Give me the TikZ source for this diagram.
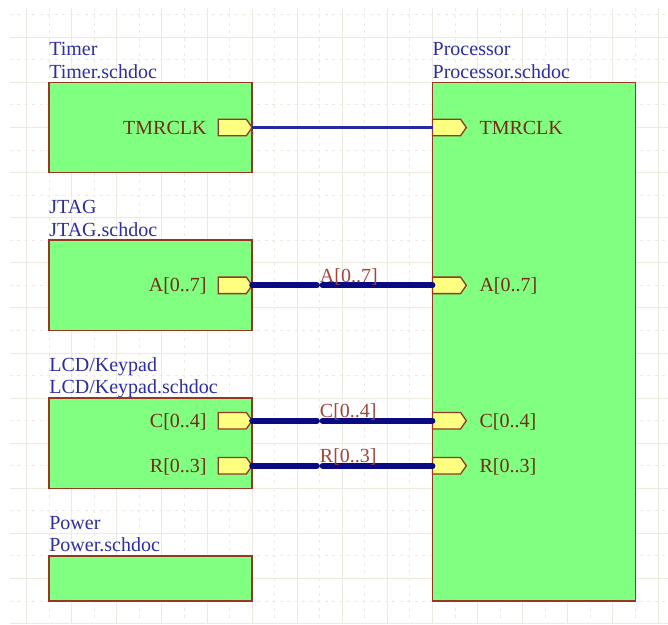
\documentclass[tikz,border=0pt]{standalone}
\usepackage{fontspec}
\setmainfont{Liberation Serif}
\usetikzlibrary{positioning,shapes.symbols}

\definecolor{sheetfill}{RGB}{128,255,128}
\definecolor{sheetline}{RGB}{150,55,35}
\definecolor{portfill}{RGB}{255,255,128}
\definecolor{sheetblue}{RGB}{45,45,165}
\definecolor{porttext}{RGB}{115,45,20}
\definecolor{netred}{RGB}{165,70,60}
\definecolor{busblue}{RGB}{10,10,130}
\definecolor{wireblue}{RGB}{40,40,165}
\definecolor{gridcol}{RGB}{236,234,225}

\newcommand{\gridu}{22.55pt}

\begin{document}
\begin{tikzpicture}[
  x=22.55pt, y=-22.55pt,
  font=\fontsize{20pt}{22.55pt}\selectfont,
  sheet/.style={
    draw=sheetline, line width=1.6pt, fill=sheetfill,
    anchor=north west, inner sep=0pt, outer sep=0pt,
  },
  sheetname/.style={
    text=sheetblue, align=left, inner sep=0pt, text depth=0pt,
  },
  port/.style={
    signal, signal to=east, signal pointer angle=110,
    draw=sheetline, line width=1.3pt, fill=portfill,
    minimum width=1.5*\gridu, minimum height=16.5pt,
    inner sep=0pt, outer sep=0pt,
  },
  porttxt/.style={text=porttext, inner sep=0pt, text height=13.2pt, text depth=0pt},
  netlbl/.style={text=netred, inner sep=0pt, anchor=base west},
  wire/.style={line width=2.4pt, color=wireblue},
  bus/.style={line width=5.8pt, color=busblue, line cap=round},
  gridmajor/.style={line width=1pt, color=gridcol},
  gridminor/.style={line width=1pt, color=gridcol, dash pattern=on 3pt off 4.5pt},
]

\fill[white] (-1.18,-1.654) rectangle (28.443,26.018);
\useasboundingbox (-1.18,-1.654) rectangle (28.443,26.018);

\foreach \i in {0,2,...,28} \draw[gridmajor] (\i,-1.3) -- (\i,26.018);
\foreach \i in {1,3,...,27} \draw[gridminor] (\i,-1.3) -- (\i,26.018);
\foreach \j in {0,2,...,26} \draw[gridmajor] (-0.74,\j) -- (28.443,\j);
\foreach \j in {-1,1,...,25} \draw[gridminor] (-0.74,\j) -- (28.443,\j);

\node[sheet, minimum width=9*\gridu, minimum height=4*\gridu] (timer) at (1,2) {};
\node[sheet, minimum width=9*\gridu, minimum height=4*\gridu] (jtag) at (1,9) {};
\node[sheet, minimum width=9*\gridu, minimum height=4*\gridu] (lcd) at (1,16) {};
\node[sheet, minimum width=9*\gridu, minimum height=2*\gridu] (power) at (1,23) {};
\node[sheet, minimum width=9*\gridu, minimum height=23*\gridu] (proc) at (18,2) {};

\node[sheetname, above right=4pt and 0pt of timer.north west] (timername) {Timer\\Timer.schdoc};
\node[sheetname, above right=4pt and 0pt of jtag.north west] (jtagname) {JTAG\\JTAG.schdoc};
\node[sheetname, above right=4pt and 0pt of lcd.north west] (lcdname) {LCD/Keypad\\LCD/Keypad.schdoc};
\node[sheetname, above right=4pt and 0pt of power.north west] (powername) {Power\\Power.schdoc};
\node[sheetname, above right=4pt and 0pt of proc.north west] (procname) {Processor\\Processor.schdoc};

\node[port, anchor=east] (timerclk) at (10,4) {};
\node[port, anchor=east] (jtaga) at (10,11) {};
\node[port, anchor=east] (lcdc) at (10,17) {};
\node[port, anchor=east] (lcdr) at (10,19) {};
\node[port, anchor=west] (proctmr) at (18,4) {};
\node[port, anchor=west] (proca) at (18,11) {};
\node[port, anchor=west] (procc) at (18,17) {};
\node[port, anchor=west] (procr) at (18,19) {};

\node[porttxt, left=11.5pt of timerclk] (timerclktxt) {TMRCLK};
\node[porttxt, left=11.5pt of jtaga] (jtagatxt) {A[0..7]};
\node[porttxt, left=11.5pt of lcdc] (lcdctxt) {C[0..4]};
\node[porttxt, left=11.5pt of lcdr] (lcdrtxt) {R[0..3]};
\node[porttxt, right=13pt of proctmr] (proctmrtxt) {TMRCLK};
\node[porttxt, right=13pt of proca] (procatxt) {A[0..7]};
\node[porttxt, right=13pt of procc] (procctxt) {C[0..4]};
\node[porttxt, right=13pt of procr] (procrtxt) {R[0..3]};

\coordinate (ja) at (13,11);
\coordinate (jc) at (13,17);
\coordinate (jr) at (13,19);

\draw[wire] (timerclk.east) -- (proctmr.west);
\draw[bus, shorten >=2.8pt] (jtaga.east) -- (ja);
\draw[bus, shorten <=2.8pt] (ja) -- (proca.west);
\draw[bus, shorten >=2.8pt] (lcdc.east) -- (jc);
\draw[bus, shorten <=2.8pt] (jc) -- (procc.west);
\draw[bus, shorten >=2.8pt] (lcdr.east) -- (jr);
\draw[bus, shorten <=2.8pt] (jr) -- (procr.west);

\node[netlbl] (neta) at ([yshift=3pt]ja) {A[0..7]};
\node[netlbl] (netc) at ([yshift=3pt]jc) {C[0..4]};
\node[netlbl] (netr) at ([yshift=3pt]jr) {R[0..3]};

\end{tikzpicture}
\end{document}
